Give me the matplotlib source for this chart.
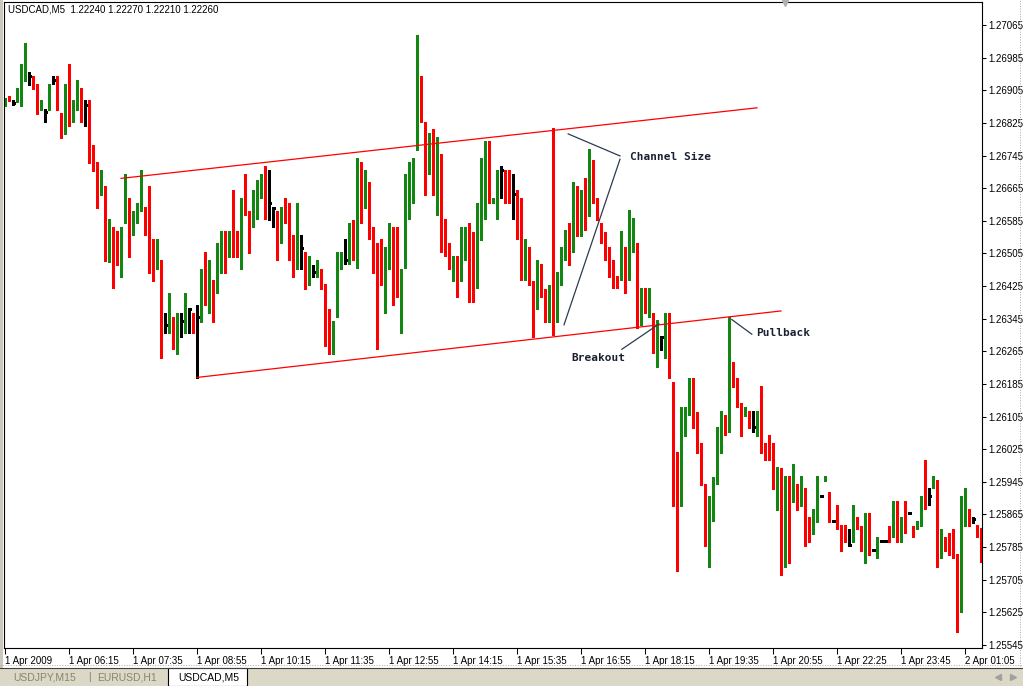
"""
USDCAD M5 candlestick chart with a hand-drawn channel, breakout and pullback.
"""

import numpy as np
import matplotlib
matplotlib.use('Agg')
import matplotlib.pyplot as plt
from matplotlib.patches import Rectangle
from matplotlib.lines import Line2D

plt.rcParams['font.family'] = ['Liberation Sans', 'DejaVu Sans']

# OHLC in points (1 point = 0.00001), one bar every 5 minutes
open_pts = [
    126867, 126891, 126873, 126879, 126879, 126938, 126940, 126930, 126920, 126857,
    126852, 126857, 126930, 126920, 126850, 126808, 126930, 126828, 126857, 126901,
    126868, 126881, 126719, 126729, 126648, 126670, 126507, 126530, 126499, 126468,
    126579, 126641, 126549, 126598, 126618, 126618, 126589, 126540, 126497, 126489,
    126329, 126348, 126348, 126258, 126339, 126329, 126368, 126358, 126348, 126338,
    126440, 126399, 126430, 126409, 126497, 126540, 126497, 126559, 126540, 126487,
    126651, 126609, 126589, 126589, 126670, 126670, 126628, 126617, 126609, 126549,
    126628, 126628, 126549, 126497, 126519, 126508, 126428, 126459, 126448, 126449,
    126430, 126330, 126289, 126348, 126467, 126488, 126478, 126559, 126469, 126729,
    126617, 126680, 126530, 126450, 126450, 126438, 126467, 126520, 126509, 126448,
    126469, 126659, 126729, 126759, 126940, 126819, 126718, 126781, 126678, 126749,
    126559, 126509, 126468, 126489, 126458, 126509, 126540, 126530, 126438, 126549,
    126708, 126781, 126628, 126628, 126710, 126700, 126670, 126651, 126660, 126599,
    126468, 126478, 126438, 126378, 126469, 126419, 126338, 126812, 126338, 126428,
    126497, 126530, 126509, 126670, 126548, 126689, 126597, 126734, 126618, 126579,
    126530, 126499, 126489, 126450, 126440, 126521, 126440, 126509, 126530, 126330,
    126399, 126368, 126358, 126256, 126299, 126289, 126358, 126191, 126019, 125887,
    126087, 126117, 126170, 126109, 126040, 125940, 125798, 125887, 125939, 126068,
    126109, 126098, 126209, 126180, 126138, 126106, 126119, 126079, 126068, 126089,
    126029, 126040, 126019, 125876, 125980, 125829, 125920, 125918, 125930, 125896,
    125920, 125858, 125818, 125847, 125910, 125948, 125920, 125849, 125849, 125829,
    125809, 125790, 125798, 125849, 125838, 125776, 125809, 125778, 125768, 125800,
    125800, 125829, 125819, 125838, 125809, 125898, 125869, 125838, 125829, 125847,
    125920, 125910, 125929, 125950, 125758, 125798, 125798, 125819, 125768, 125627,
    125847, 125878, 125853, 125839, 125833,
]
high_pts = [
    126886, 126891, 126881, 126911, 126969, 127020, 126950, 126940, 126920, 126881,
    126860, 126920, 126940, 126940, 126850, 126920, 126969, 126881, 126930, 126911,
    126881, 126881, 126770, 126729, 126710, 126670, 126589, 126569, 126559, 126569,
    126700, 126641, 126608, 126628, 126710, 126618, 126670, 126540, 126540, 126489,
    126358, 126409, 126348, 126358, 126358, 126409, 126368, 126358, 126378, 126468,
    126508, 126489, 126440, 126530, 126559, 126559, 126559, 126660, 126559, 126641,
    126700, 126609, 126660, 126685, 126700, 126719, 126710, 126617, 126609, 126618,
    126640, 126628, 126549, 126628, 126549, 126508, 126499, 126477, 126489, 126468,
    126430, 126368, 126339, 126509, 126509, 126540, 126579, 126587, 126739, 126729,
    126710, 126680, 126571, 126530, 126540, 126520, 126579, 126571, 126571, 126468,
    126700, 126729, 126739, 127041, 126940, 126828, 126800, 126809, 126790, 126749,
    126589, 126530, 126499, 126499, 126569, 126569, 126579, 126558, 126628, 126739,
    126781, 126781, 126640, 126710, 126719, 126710, 126710, 126700, 126660, 126640,
    126540, 126520, 126438, 126489, 126478, 126419, 126428, 126812, 126460, 126521,
    126562, 126579, 126681, 126670, 126660, 126689, 126760, 126734, 126640, 126579,
    126558, 126521, 126489, 126450, 126561, 126521, 126612, 126591, 126530, 126420,
    126420, 126420, 126358, 126342, 126299, 126358, 126358, 126191, 126019, 126129,
    126129, 126199, 126199, 126117, 126040, 125940, 125910, 125958, 126080, 126119,
    126109, 126350, 126240, 126199, 126138, 126129, 126119, 126119, 126119, 126180,
    126040, 126060, 126040, 125981, 125980, 125959, 125959, 125989, 125940, 125959,
    125930, 125858, 125878, 125959, 125910, 125959, 125920, 125849, 125888, 125839,
    125839, 125829, 125888, 125858, 125838, 125868, 125868, 125778, 125809, 125800,
    125800, 125838, 125898, 125898, 125858, 125898, 125869, 125838, 125849, 125910,
    125999, 125930, 125959, 125950, 125829, 125809, 125819, 125829, 125768, 125910,
    125930, 125878, 125860, 125839, 125833,
]
low_pts = [
    126867, 126879, 126869, 126877, 126867, 126928, 126918, 126909, 126848, 126857,
    126828, 126857, 126920, 126857, 126789, 126799, 126818, 126828, 126857, 126828,
    126818, 126727, 126707, 126617, 126648, 126486, 126485, 126420, 126477, 126448,
    126579, 126497, 126549, 126579, 126608, 126549, 126458, 126438, 126468, 126248,
    126309, 126309, 126270, 126258, 126299, 126309, 126309, 126309, 126200, 126338,
    126378, 126358, 126338, 126409, 126458, 126458, 126497, 126497, 126497, 126468,
    126598, 126507, 126571, 126589, 126641, 126589, 126587, 126569, 126489, 126530,
    126579, 126489, 126448, 126467, 126467, 126419, 126428, 126448, 126448, 126419,
    126278, 126258, 126258, 126348, 126467, 126478, 126478, 126489, 126469, 126579,
    126617, 126540, 126458, 126270, 126428, 126358, 126467, 126378, 126399, 126309,
    126469, 126589, 126628, 126759, 126828, 126648, 126700, 126648, 126599, 126508,
    126499, 126468, 126438, 126399, 126438, 126489, 126387, 126387, 126420, 126538,
    126589, 126628, 126628, 126589, 126640, 126628, 126628, 126589, 126540, 126440,
    126440, 126428, 126299, 126368, 126399, 126338, 126338, 126305, 126338, 126428,
    126489, 126477, 126509, 126548, 126548, 126562, 126597, 126628, 126587, 126531,
    126489, 126448, 126420, 126420, 126440, 126409, 126440, 126509, 126321, 126330,
    126360, 126350, 126260, 126227, 126268, 126248, 126199, 125887, 125727, 125887,
    126058, 126109, 126076, 126016, 125937, 125788, 125737, 125849, 125939, 126016,
    126060, 126068, 126178, 126128, 126058, 126106, 126078, 126068, 126058, 126016,
    125999, 125999, 125928, 125876, 125717, 125737, 125747, 125896, 125876, 125886,
    125788, 125798, 125818, 125847, 125910, 125948, 125847, 125849, 125829, 125776,
    125798, 125790, 125798, 125829, 125776, 125747, 125766, 125778, 125758, 125800,
    125800, 125798, 125809, 125798, 125798, 125819, 125869, 125809, 125829, 125838,
    125878, 125888, 125929, 125737, 125758, 125776, 125766, 125758, 125578, 125627,
    125838, 125838, 125843, 125811, 125749,
]
close_pts = [
    126881, 126879, 126873, 126891, 126950, 126950, 126940, 126909, 126848, 126868,
    126852, 126920, 126930, 126857, 126818, 126920, 126818, 126868, 126911, 126857,
    126868, 126727, 126707, 126638, 126680, 126519, 126540, 126487, 126477, 126569,
    126651, 126540, 126608, 126628, 126628, 126579, 126549, 126487, 126508, 126338,
    126329, 126368, 126270, 126329, 126339, 126358, 126368, 126338, 126348, 126430,
    126420, 126420, 126420, 126530, 126549, 126487, 126549, 126549, 126497, 126641,
    126598, 126579, 126599, 126660, 126690, 126640, 126628, 126617, 126540, 126618,
    126618, 126558, 126489, 126509, 126519, 126419, 126469, 126459, 126459, 126438,
    126317, 126278, 126339, 126478, 126478, 126488, 126569, 126489, 126719, 126607,
    126690, 126540, 126458, 126438, 126428, 126478, 126530, 126497, 126438, 126459,
    126651, 126719, 126739, 126950, 126828, 126708, 126771, 126689, 126771, 126549,
    126520, 126478, 126478, 126448, 126499, 126549, 126448, 126448, 126540, 126719,
    126771, 126640, 126640, 126700, 126710, 126659, 126659, 126651, 126599, 126458,
    126499, 126428, 126387, 126478, 126428, 126348, 126428, 126305, 126440, 126509,
    126542, 126497, 126660, 126587, 126660, 126587, 126750, 126628, 126587, 126531,
    126509, 126477, 126440, 126430, 126508, 126429, 126521, 126542, 126338, 126409,
    126368, 126379, 126268, 126309, 126299, 126358, 126199, 126029, 125896, 126098,
    126109, 126160, 126097, 126029, 125947, 125788, 125899, 125950, 126060, 126098,
    126068, 126199, 126189, 126148, 126117, 126129, 126098, 126079, 126080, 126029,
    126016, 126016, 125928, 125970, 125819, 125910, 125896, 125979, 125876, 125920,
    125838, 125828, 125858, 125898, 125910, 125959, 125847, 125849, 125829, 125798,
    125798, 125790, 125849, 125829, 125809, 125868, 125776, 125778, 125798, 125800,
    125800, 125809, 125849, 125798, 125849, 125868, 125869, 125819, 125849, 125910,
    125909, 125910, 125959, 125747, 125798, 125788, 125776, 125758, 125627, 125858,
    125888, 125838, 125853, 125821, 125772,
]

time_labels = [
    '1 Apr 2009', '1 Apr 06:15', '1 Apr 07:35', '1 Apr 08:55', '1 Apr 10:15',
    '1 Apr 11:35', '1 Apr 12:55', '1 Apr 14:15', '1 Apr 15:35', '1 Apr 16:55',
    '1 Apr 18:15', '1 Apr 19:35', '1 Apr 20:55', '1 Apr 22:25', '1 Apr 23:45',
    '2 Apr 01:05',
]
bars_per_label = 16
price_ticks = [1.27065 - 0.0008 * k for k in range(20)]

# trend lines: (bar, price) end points
channel_top = [(29, 1.26689), (188, 1.26862)]
channel_bottom = [(48, 1.26201), (194, 1.26364)]
size_lines = [[(140.8, 1.26798), (153.75, 1.26744)],
              [(153.75, 1.26736), (139.75, 1.26330)]]
breakout_line = [(154.2, 1.26270), (163.5, 1.26332)]
pullback_line = [(181.7, 1.26343), (186.7, 1.26307)]
labels = [('Channel Size', 156.25, 1.26741),
          ('Breakout', 141.5, 1.26249),
          ('Pullback', 187.75, 1.26310)]

GREEN = '#118611'
RED = '#ff0000'
NOTE = '#2e3a52'

W, H = 1023, 686
fig = plt.figure(figsize=(W / 100, H / 100), dpi=100)
fig.patch.set_facecolor('white')
ax = fig.add_axes([4 / W, 38 / H, 978 / W, 646 / H])

o = np.array(open_pts) / 1e5
h = np.array(high_pts) / 1e5
l = np.array(low_pts) / 1e5
c = np.array(close_pts) / 1e5
idx = np.arange(len(o))
up = c > o
dn = c < o
flat = c == o

# wicks
ax.vlines(idx[up], l[up], h[up], color=GREEN, lw=0.75, antialiased=False)
ax.vlines(idx[dn], l[dn], h[dn], color=RED, lw=0.75, antialiased=False)
ax.vlines(idx[flat], l[flat], h[flat], color='black', lw=0.75, antialiased=False)

# bodies
ax.bar(idx[up], (c - o)[up], bottom=o[up], width=0.75, color=GREEN,
       linewidth=0, antialiased=False)
ax.bar(idx[dn], (o - c)[dn], bottom=c[dn], width=0.75, color=RED,
       linewidth=0, antialiased=False)
ax.hlines(o[flat], idx[flat] - 0.375, idx[flat] + 0.375, color='black',
          lw=0.75, antialiased=False)

# channel
for line in (channel_top, channel_bottom):
    xs, ys = zip(*line)
    ax.plot(xs, ys, color=RED, lw=0.9)

for line in size_lines + [breakout_line, pullback_line]:
    xs, ys = zip(*line)
    ax.plot(xs, ys, color=NOTE, lw=0.9)

for txt, bx, py in labels:
    ax.text(bx, py, txt, color='#1a2232', fontsize=8, fontweight='bold',
            family='DejaVu Sans Mono', ha='left', va='center')

ax.set_xlim(-0.25, 244.25)
ax.set_ylim(1.255377, 1.271214)

ax.yaxis.tick_right()
ax.set_yticks(price_ticks)
ax.set_yticklabels([f'{p:.5f}' for p in price_ticks])
ax.tick_params(axis='y', length=3, width=0.75, pad=1.5, labelsize=7, colors='black')

ax.set_xticks(np.arange(len(time_labels)) * bars_per_label)
ax.set_xticklabels(time_labels, ha='left')
ax.tick_params(axis='x', length=4, width=0.75, pad=1.5, labelsize=7)

for sp in ax.spines.values():
    sp.set_linewidth(0.8)
    sp.set_color('black')

# header text
fig.text(8 / W, 1 - 9 / H, 'USDCAD,M5  1.22240 1.22270 1.22210 1.22260',
         fontsize=7, va='center', ha='left')

# terminal chrome: left strip, right dotted edge, tab bar
fig.add_artist(Rectangle((0, 0), 3 / W, 1, transform=fig.transFigure,
                         facecolor='#cbc7bb', edgecolor='none'))
fig.add_artist(Line2D([1020 / W, 1020 / W], [20 / H, 1], transform=fig.transFigure,
                      color='#a8a8a8', lw=0.7, ls=':'))
fig.add_artist(Line2D([0, 1], [21 / H, 21 / H], transform=fig.transFigure,
                      color='#a8a8a8', lw=0.7, ls=':'))
fig.add_artist(Rectangle((0, 0), 1, 18 / H, transform=fig.transFigure,
                         facecolor='#dcd8c8', edgecolor='none'))
fig.add_artist(Line2D([0, 1], [18 / H, 18 / H], transform=fig.transFigure,
                      color='#404040', lw=0.8))
fig.add_artist(Rectangle((168 / W, 0), 79 / W, 18.5 / H, transform=fig.transFigure,
                         facecolor='white', edgecolor='black', lw=0.8))
fig.text(13 / W, 9 / H, 'USDJPY,M15', fontsize=7.5, color='#8a8468', va='center')
fig.text(88 / W, 9 / H, '|', fontsize=7.5, color='#8a8468', va='center')
fig.text(97 / W, 9 / H, 'EURUSD,H1', fontsize=7.5, color='#8a8468', va='center')
fig.text(178 / W, 9 / H, 'USDCAD,M5', fontsize=7.5, color='black', va='center')
fig.add_artist(Line2D([998 / W], [9 / H], transform=fig.transFigure, marker='<',
                      ms=4, color='#a0a0a0', lw=0))
fig.add_artist(Line2D([1013 / W], [9 / H], transform=fig.transFigure, marker='>',
                      ms=4, color='#a0a0a0', lw=0))
fig.add_artist(Line2D([785 / W], [1 - 3 / H], transform=fig.transFigure, marker='v',
                      ms=5, color='#b0b0b0', lw=0))

fig.savefig('out.png', dpi=100, facecolor='white')
